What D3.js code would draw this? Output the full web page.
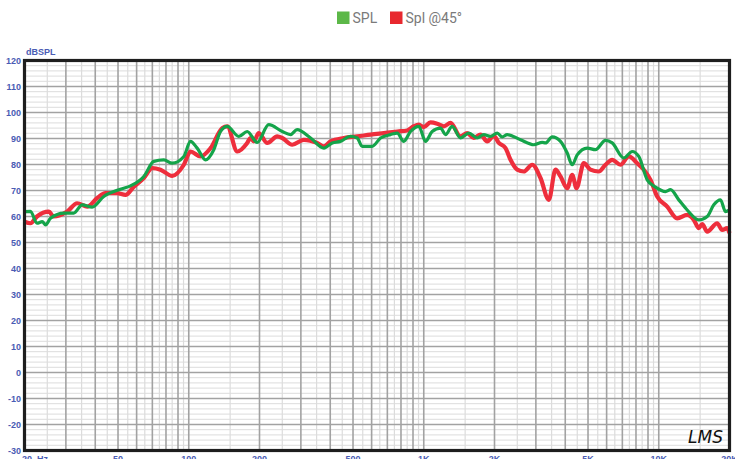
<!DOCTYPE html>
<html lang="en">
<head>
<meta charset="utf-8">
<title>SPL response</title>
<script src="https://d3js.org/d3.v7.min.js"></script>
<style>
  body { margin: 0; background: #fff; }
  svg { display: block; }
  .tick-label { font-family: "Liberation Sans", Arial, sans-serif; font-weight: bold; font-size: 9px; fill: #4a5cb4; }
  .legend text { font-family: Roboto, "Open Sans", sans-serif; font-size: 14px; fill: #7a7a7a; }
</style>
</head>
<body>
<svg id="chart" width="735" height="459"></svg>
<script>
// --- data ---
var seriesNames = ["SPL", "Spl @45°"];
var seriesColors = ["#14a44a", "#ee2e3c"];
var legendColors = ["#5cb848", "#e8282e"];

var splFreq = [20, 21.2, 22.6, 23.8, 24.6, 25.8, 29.4, 32.4, 35.2, 38.8, 43.5, 51.2, 56.5, 64.4, 71, 78.3, 85, 95.3,
  101.7, 108.6, 117.8, 127.8, 136.5, 145.8, 163.3, 177.3, 195.5, 219, 250, 271, 289, 330, 376, 408, 442, 488, 521, 547,
  603, 655, 722, 771, 822, 878, 953, 1017, 1086, 1178, 1238, 1321, 1433, 1555, 1689, 1801, 1923, 2054, 2157, 2265,
  2580, 2940, 3192, 3297, 3521, 3818, 4079, 4283, 4498, 4960, 5379, 5933, 6337, 7100, 7708, 8223, 8930, 9686,
  10683, 11220, 12168, 13214, 14808, 16076, 17152, 18310, 19231, 20000];
var splDb = [61.9, 62, 57.4, 58, 56.8, 59.3, 61.3, 61.3, 64.5, 63.6, 67.7, 70.5, 71.8, 75.4, 81.2, 81.8, 80.5, 83.1,
  88.9, 86.3, 81.8, 85.7, 92.7, 94.7, 90.8, 92.7, 88.5, 95.3, 92.7, 91.5, 93.4, 90.2, 86.3, 88.3, 88.9, 90.8, 90.2, 87,
  87, 90.2, 91.5, 92.1, 88.9, 92.7, 94.7, 88.9, 92.7, 94, 91.5, 94.7, 90.2, 92.1, 90.2, 91.5, 90.8, 92.1, 90.6, 91.5,
  89.5, 87.6, 88.5, 88.3, 90.6, 88.9, 84.4, 79.9, 83.7, 86.3, 85.7, 89.3, 88.3, 82.5, 85, 83.1, 74.1, 71.3,
  69.6, 70.3, 66.4, 62.5, 58.7, 60, 64.5, 66.4, 61.9, 62.5];

var offFreq = [20, 21.2, 22.6, 25.4, 26.6, 30.4, 33.5, 37, 40.8, 44.2, 49.6, 53.8, 58.4, 64.4, 69.9, 75.8, 85, 95.3,
  101.7, 112.2, 123.8, 138.8, 145.8, 160.8, 177.3, 183.1, 189.1, 198.6, 215.7, 237.9, 250, 275.5, 308.7, 352, 376, 401,
  457, 521, 593, 676, 771, 850, 907, 953, 1000, 1068, 1141, 1217, 1300, 1433, 1530, 1633, 1744, 1862, 1986, 2086,
  2228, 2340, 2499, 2665, 2894, 3139, 3405, 3636, 3818, 4079, 4283, 4467, 4798, 5121, 5556, 5933, 6337, 6873, 7456,
  8095, 8637, 9223, 9849, 10862, 11977, 13214, 14098, 14808, 15306, 16076, 17731, 18616, 19554, 20000];
var offDb = [58, 57.4, 60, 61.9, 60, 61.9, 65.1, 63.8, 67.1, 69, 69, 68.3, 71.5, 74.8, 78.6, 78, 75.6, 79.9,
  85, 83.1, 86.3, 94, 94.7, 85, 88.3, 90.2, 88.9, 92.1, 88.3, 90.8, 90.2, 87.6, 89.5, 88.3, 87, 88.9,
  90.2, 90.8, 91.5, 92.1, 92.7, 93.1, 94.7, 95.3, 94.4, 96.2, 95.7, 94.7, 96, 90.8, 92.1, 90.2, 91.5, 88.9, 91, 88.3,
  86.3, 81.8, 78, 77.3, 79.9, 74.8, 66.4, 78, 75.4, 70.9, 76, 70.9, 80.5, 78, 77.3, 79.9, 81.8, 79.9, 83.1,
  80.5, 78, 74.1, 67.7, 63.8, 59.3, 60.6, 58.7, 55.5, 57.1, 54.2, 57.4, 54.8, 55.5, 53.6];

var yTicks = [120, 110, 100, 90, 80, 70, 60, 50, 40, 30, 20, 10, 0, -10, -20, -30];
var xTickVals = [20, 50, 100, 200, 500, 1000, 2000, 5000, 10000, 20000];
var xTickLabels = ["20  Hz", "50", "100", "200", "500", "1K", "2K", "5K", "10K", "20K"];

// --- layout ---
var svg = d3.select("#chart");
var pLeft = 24.5, pRight = 729.5, pTop = 60.5, pBottom = 450.5;

var x = d3.scaleLog().domain([20, 20000]).range([pLeft, pRight]);
var y = d3.scaleLinear().domain([-30, 120]).range([pBottom, pTop]);

// grid
var grid = svg.append("g");
var minorY = d3.range(-30, 121, 2).filter(function(d) { return d % 10 !== 0; });
grid.selectAll(".hminor").data(minorY).enter().append("line")
  .attr("x1", pLeft).attr("x2", pRight)
  .attr("y1", function(d) { return y(d); }).attr("y2", function(d) { return y(d); })
  .attr("stroke", "#dcdcdc").attr("stroke-width", 1);

var vMajor = [], vMinor = [];
[10, 100, 1000, 10000].forEach(function(dec) {
  for (var k = 1; k <= 9; k++) {
    if (k * dec > 20 && k * dec < 20000) vMajor.push(k * dec);
    var h = (k + 0.5) * dec;
    if (h > 20 && h < 20000) vMinor.push(h);
  }
});
grid.selectAll(".vminor").data(vMinor).enter().append("line")
  .attr("x1", function(d) { return x(d); }).attr("x2", function(d) { return x(d); })
  .attr("y1", pTop).attr("y2", pBottom)
  .attr("stroke", "#dcdcdc").attr("stroke-width", 1.2);
grid.selectAll(".hmajor").data(yTicks).enter().append("line")
  .attr("x1", pLeft).attr("x2", pRight)
  .attr("y1", function(d) { return y(d); }).attr("y2", function(d) { return y(d); })
  .attr("stroke", "#a2a2a2").attr("stroke-width", 1.6);
grid.selectAll(".vmajor").data(vMajor).enter().append("line")
  .attr("x1", function(d) { return x(d); }).attr("x2", function(d) { return x(d); })
  .attr("y1", pTop).attr("y2", pBottom)
  .attr("stroke", "#a2a2a2").attr("stroke-width", 1.6);

// curves
var line = d3.line()
  .x(function(d) { return x(d[0]); })
  .y(function(d) { return y(d[1]); })
  .curve(d3.curveMonotoneX);

var offData = d3.zip(offFreq, offDb);
var splData = d3.zip(splFreq, splDb);

var plot = svg.append("g");
plot.append("path").datum(offData)
  .attr("d", line).attr("fill", "none")
  .attr("stroke", seriesColors[1]).attr("stroke-width", 4.2).attr("stroke-linejoin", "round");
plot.append("path").datum(splData)
  .attr("d", line).attr("fill", "none")
  .attr("stroke", seriesColors[0]).attr("stroke-width", 3.2).attr("stroke-linejoin", "round");

// frame
svg.append("rect")
  .attr("x", pLeft).attr("y", pTop)
  .attr("width", pRight - pLeft).attr("height", pBottom - pTop)
  .attr("fill", "none").attr("stroke", "#1e1e1e").attr("stroke-width", 3.2);

// y axis labels
svg.selectAll(".ylab").data(yTicks).enter().append("text")
  .attr("class", "tick-label")
  .attr("x", 21).attr("y", function(d) { return y(d) + 3; })
  .attr("text-anchor", "end")
  .text(function(d) { return d; });

svg.append("text").attr("class", "tick-label")
  .attr("x", 26).attr("y", 55).text("dBSPL");

// x axis labels
svg.selectAll(".xlab").data(xTickVals).enter().append("text")
  .attr("class", "tick-label")
  .attr("x", function(d, i) { return i === 0 ? 22 : x(d); })
  .attr("y", 461.5)
  .attr("text-anchor", function(d, i) { return i === 0 ? "start" : "middle"; })
  .style("white-space", "pre")
  .text(function(d, i) { return xTickLabels[i]; });

// legend
var legend = svg.append("g").attr("class", "legend");
var legX = [337, 390];
seriesNames.forEach(function(name, i) {
  legend.append("rect")
    .attr("x", legX[i]).attr("y", 11.5)
    .attr("width", 12.5).attr("height", 12.5)
    .attr("fill", legendColors[i]);
  legend.append("text")
    .attr("x", legX[i] + 15.5).attr("y", 23)
    .text(name);
});

// signature
svg.append("text")
  .attr("x", 688).attr("y", 443)
  .attr("font-family", "DejaVu Sans, sans-serif")
  .attr("font-style", "italic")
  .attr("font-size", 17)
  .attr("font-weight", 300)
  .attr("fill", "#111")
  .text("LMS");
</script>
</body>
</html>
